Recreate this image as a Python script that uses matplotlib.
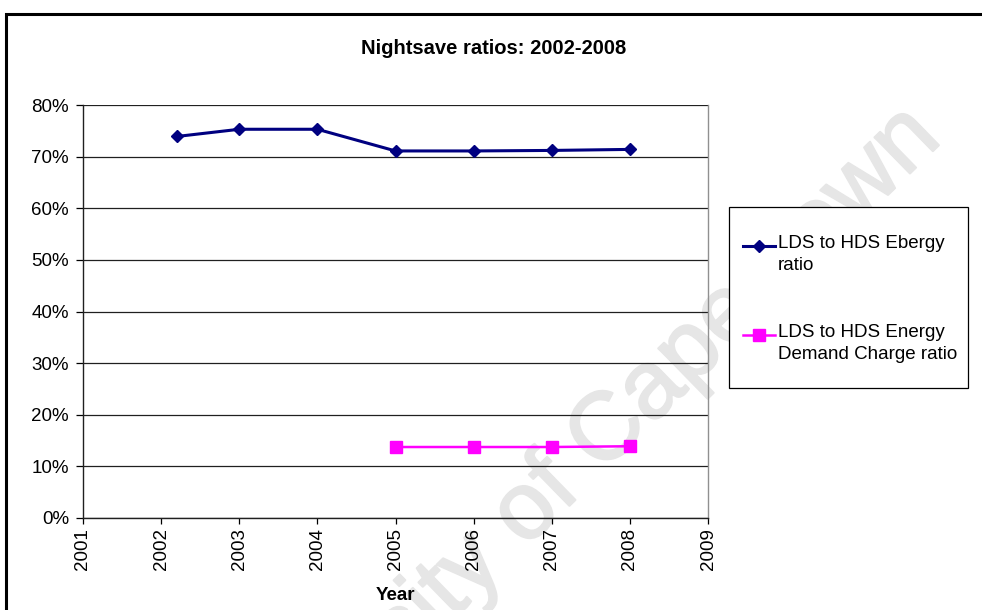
import matplotlib
matplotlib.use("Agg")
import matplotlib.pyplot as plt
import matplotlib.patheffects as pe
from matplotlib.patches import Rectangle
from matplotlib.ticker import PercentFormatter

plt.rcParams['font.family'] = ['Liberation Sans', 'DejaVu Sans']

# data
energy_years = [2002.2, 2003, 2004, 2005, 2006, 2007, 2008]
energy_ratio = [0.739, 0.753, 0.753, 0.711, 0.711, 0.712, 0.714]
demand_years = [2005, 2006, 2007, 2008]
demand_ratio = [0.1375, 0.1375, 0.1375, 0.139]
x_ticks = list(range(2001, 2010))
y_ticks = [i / 10 for i in range(0, 9)]
labels = ["LDS to HDS Ebergy\nratio", "LDS to HDS Energy\nDemand Charge ratio"]

fs = 13.5
W, H = 982, 610
fig = plt.figure(figsize=(W / 100, H / 100), dpi=100)
fig.patch.set_facecolor('white')

# outer chart frame
fig.add_artist(Rectangle((6 / W, -0.1), 1.1, 1 - 14 / H + 0.1, transform=fig.transFigure,
                         fill=False, edgecolor='black', linewidth=2.2))

# faint watermark behind the plot
wm_color = '#e6e6e6'
fig.text(557 / W, 1 - 483 / H, "University of Cape Town", fontsize=69, color=wm_color,
         rotation=44.3, rotation_mode='anchor', ha='center', va='center', zorder=-1,
         path_effects=[pe.withStroke(linewidth=1.5, foreground=wm_color)])

# legend box (white, covers the watermark)
fig.add_artist(Rectangle((729 / W, 1 - 388 / H), 239 / W, 181 / H, transform=fig.transFigure,
                         facecolor='white', edgecolor='black', linewidth=0.9, zorder=-0.5))

ax = fig.add_axes([83 / W, 1 - 518 / H, (708 - 83) / W, (518 - 105) / H])
ax.set_facecolor('none')

ax.plot(energy_years, energy_ratio, color='#000080', linewidth=2.2, marker='D',
        markersize=6.5, label=labels[0], zorder=3)
ax.plot(demand_years, demand_ratio, color='#ff00ff', linewidth=1.8, marker='s',
        markersize=8, label=labels[1], zorder=3)

ax.set_xlim(2001, 2009)
ax.set_ylim(0, 0.8)
ax.set_xticks(x_ticks)
ax.set_yticks(y_ticks)
ax.yaxis.set_major_formatter(PercentFormatter(xmax=1, decimals=0))
ax.tick_params(axis='x', direction='out', length=4.5, width=0.9, pad=3,
               labelsize=fs, labelrotation=90, color='black')
ax.tick_params(axis='y', direction='out', length=5, width=0.9, pad=5,
               labelsize=fs, color='black')
ax.yaxis.grid(True, color='#202020', linewidth=0.9)
ax.set_axisbelow(True)

ax.spines['top'].set_visible(False)
ax.spines['left'].set_color('#202020')
ax.spines['bottom'].set_color('#202020')
ax.spines['right'].set_color('#909090')
for s in ['left', 'bottom', 'right']:
    ax.spines[s].set_linewidth(1.0)

ax.set_xlabel("Year", fontsize=fs, fontweight='bold', labelpad=12)
fig.text(0.503, 1 - 48 / H, "Nightsave ratios: 2002-2008", fontsize=14.5,
         fontweight='bold', ha='center', va='center')

leg = ax.legend(loc='upper left', bbox_to_anchor=(743 / W, 1 - 235 / H),
                bbox_transform=fig.transFigure, frameon=False, fontsize=fs,
                borderpad=0, borderaxespad=0, handlelength=1.7, handletextpad=0.15,
                labelspacing=2.7, handleheight=2.3)
for t in leg.get_texts():
    t.set_linespacing(1.35)
# put the sample line next to the first text line, as in the original
for item in leg._legend_handle_box.get_children()[0].get_children():
    item.align = 'top'

fig.savefig("out.png", dpi=100)
